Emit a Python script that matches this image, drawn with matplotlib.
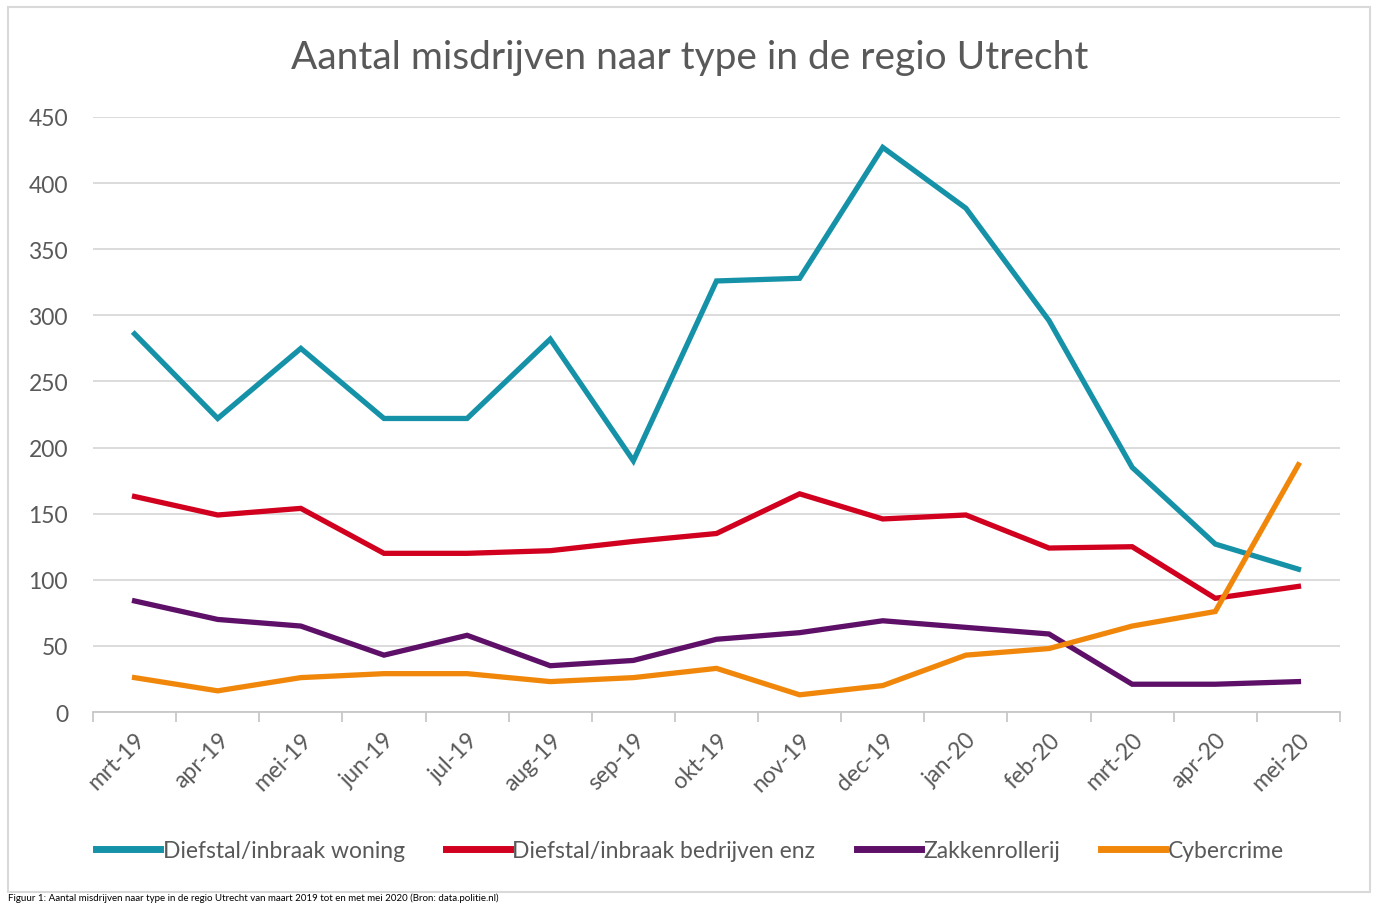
import matplotlib
matplotlib.use("Agg")
import matplotlib.pyplot as plt
from matplotlib.patches import Rectangle

plt.rcParams['font.family'] = ['Lato', 'DejaVu Sans']

months = ["mrt-19", "apr-19", "mei-19", "jun-19", "jul-19", "aug-19", "sep-19",
          "okt-19", "nov-19", "dec-19", "jan-20", "feb-20", "mrt-20", "apr-20", "mei-20"]
woning = [286, 222, 275, 222, 222, 282, 190, 326, 328, 427, 381, 296, 185, 127, 108]
bedrijven = [163, 149, 154, 120, 120, 122, 129, 135, 165, 146, 149, 124, 125, 86, 95]
zakkenrollerij = [84, 70, 65, 43, 58, 35, 39, 55, 60, 69, 64, 59, 21, 21, 23]
cybercrime = [26, 16, 26, 29, 29, 23, 26, 33, 13, 20, 43, 48, 65, 76, 187]

series_names = ["Diefstal/inbraak woning", "Diefstal/inbraak bedrijven enz",
                "Zakkenrollerij", "Cybercrime"]
colors = ["#1592a8", "#d1001f", "#5e1068", "#f0870a"]

W, H = 1380, 904
fig = plt.figure(figsize=(W / 100, H / 100), dpi=100)
fig.patch.set_facecolor("white")

# outer chart border
fig.add_artist(Rectangle((8 / W, 1 - 893 / H), (1370 - 8) / W, (893 - 8) / H,
                         transform=fig.transFigure, fill=False,
                         edgecolor="#d9d9d9", linewidth=1.5))

ax = fig.add_axes([93 / W, 1 - 713 / H, (1340 - 93) / W, (713 - 118) / H])
x = list(range(len(months)))
lines = []
for vals, name, c in zip([woning, bedrijven, zakkenrollerij, cybercrime], series_names, colors):
    ln, = ax.plot(x, vals, color=c, linewidth=3.8, label=name, solid_joinstyle="miter")
    lines.append(ln)

ax.set_xlim(-0.5, len(months) - 0.5)
ax.set_ylim(0, 450)
ax.set_yticks(range(0, 451, 50))
ax.yaxis.grid(True, color="#d9d9d9", linewidth=1.3)
ax.set_axisbelow(True)
for s in ["left", "right", "top"]:
    ax.spines[s].set_visible(False)
ax.spines["bottom"].set_color("#c8c8c8")
ax.spines["bottom"].set_linewidth(1.3)
ax.tick_params(axis="y", length=0, labelsize=16.5, labelcolor="#595959", pad=18)

ax.set_xticks([i - 0.5 for i in range(len(months) + 1)])
ax.set_xticklabels([])
ax.tick_params(axis="x", which="major", length=7, color="#c8c8c8", width=1.3)
ax.set_xticks(x, minor=True)
ax.set_xticklabels(months, minor=True, rotation=45, ha="right", va="top",
                   rotation_mode="anchor", fontsize=16.5, color="#595959")
ax.tick_params(axis="x", which="minor", length=0, pad=12)

fig.text(0.5, 1 - 58 / H, "Aantal misdrijven naar type in de regio Utrecht",
         ha="center", va="center", fontsize=28, color="#595959")

leg = fig.legend(handles=lines, loc="center", bbox_to_anchor=(0.5, 1 - 852 / H), ncol=4,
                 frameon=False, fontsize=16.5, handlelength=2.8, handletextpad=0.1,
                 columnspacing=1.8, labelcolor="#595959")
for h in leg.legend_handles:
    h.set_linewidth(5)

fig.text(8 / W, 1 - 903 / H,
         "Figuur 1: Aantal misdrijven naar type in de regio Utrecht van maart 2019 tot en met mei 2020 (Bron: data.politie.nl)",
         ha="left", va="bottom", fontsize=7, color="#000000")

fig.savefig("out.png", dpi=100)
